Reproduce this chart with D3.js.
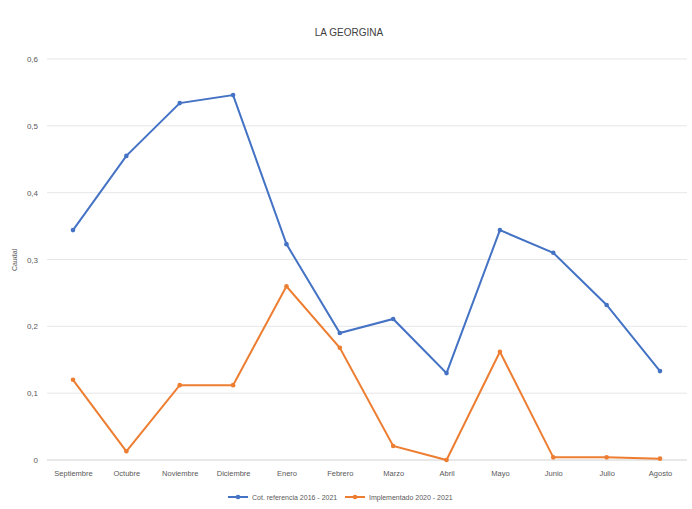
<!DOCTYPE html>
<html><head><meta charset="utf-8">
<script src="https://cdn.jsdelivr.net/npm/d3@7"></script>
<style>body{margin:0;background:#fff}svg{display:block;font-family:"Liberation Sans",Arial,sans-serif}</style>
</head><body><svg id="c" width="692" height="509"></svg>
<script>
const months = ["Septiembre","Octubre","Noviembre","Diciembre","Enero","Febrero","Marzo","Abril","Mayo","Junio","Julio","Agosto"];
const seriesNames = ["Cot. referencia 2016 - 2021","Implementado 2020 - 2021"];
const referencia = [0.344,0.455,0.534,0.546,0.323,0.190,0.211,0.130,0.344,0.310,0.232,0.133];
const implementado = [0.120,0.013,0.112,0.112,0.260,0.168,0.021,0.000,0.162,0.004,0.004,0.002];
const yTicks = [0,0.1,0.2,0.3,0.4,0.5,0.6];
const colors = ["#4472C4","#ED7D31"];

const svg = d3.select("#c");
const x = d3.scalePoint().domain(months).range([73,660]);
const y = d3.scaleLinear().domain([0,0.6]).range([460,59]);
const fmt = d => d===0 ? "0" : d3.format(".1f")(d).replace(".",",");

// grid
svg.append("g").selectAll("line").data(yTicks).join("line")
  .attr("x1",47).attr("x2",687).attr("y1",d=>y(d)).attr("y2",d=>y(d))
  .attr("stroke",d=>d===0?"#d0d0d0":"#e6e6e6").attr("stroke-width",1);

const yAxis = svg.append("g").attr("transform","translate(47,0)")
  .call(d3.axisLeft(y).tickValues(yTicks).tickFormat(fmt).tickSize(0).tickPadding(9));
yAxis.select(".domain").remove();
yAxis.selectAll("text").attr("fill","#595959").attr("font-size",8);

const xAxis = svg.append("g").attr("transform","translate(0,460)")
  .call(d3.axisBottom(x).tickSize(0).tickPadding(11));
xAxis.select(".domain").remove();
xAxis.selectAll("text").attr("fill","#595959").attr("font-size",7.5);

svg.append("text").attr("x",349).attr("y",36).attr("text-anchor","middle")
  .attr("font-size",10).attr("fill","#404040").text("LA GEORGINA");
svg.append("text").attr("transform","translate(17,260) rotate(-90)").attr("text-anchor","middle")
  .attr("font-size",7).attr("fill","#595959").text("Caudal");

const line = d3.line().x((d,i)=>x(months[i])).y(d=>y(d));
[referencia,implementado].forEach((s,k)=>{
  svg.append("path").datum(s).attr("d",line).attr("fill","none")
    .attr("stroke",colors[k]).attr("stroke-width",2);
  svg.append("g").selectAll("circle").data(s).join("circle")
    .attr("cx",(d,i)=>x(months[i])).attr("cy",d=>y(d)).attr("r",2.3).attr("fill",colors[k]);
});

// legend
const lg = svg.append("g");
const lx = [228,345];
seriesNames.forEach((n,k)=>{
  const g = lg.append("g").attr("transform",`translate(${lx[k]},497)`);
  g.append("line").attr("x1",0).attr("x2",20).attr("stroke",colors[k]).attr("stroke-width",2);
  g.append("circle").attr("cx",10).attr("r",2.3).attr("fill",colors[k]);
  g.append("text").attr("x",24).attr("y",2.5).attr("font-size",7).attr("fill","#595959").text(n);
});
</script></body></html>
